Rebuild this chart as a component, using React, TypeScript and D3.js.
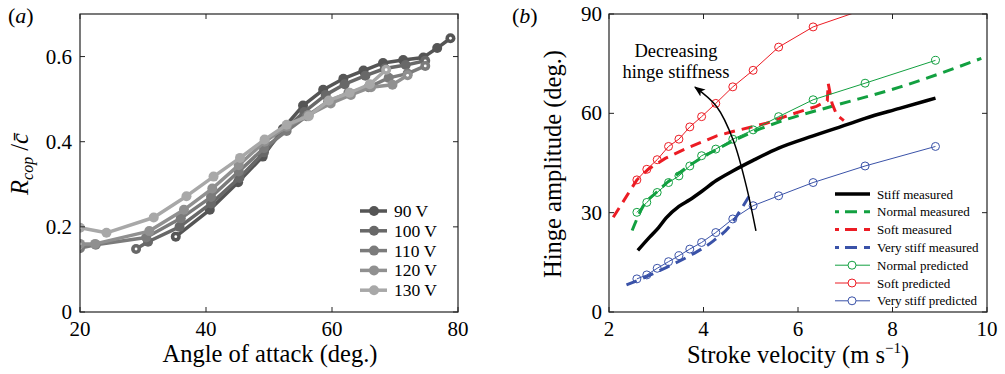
import React from "react";
import * as d3 from "d3";

// ---------- Panel (a) data ----------
const voltLabels = ["90 V", "100 V", "110 V", "120 V", "130 V"];
const voltColors = ["#555555", "#686868", "#7b7b7b", "#909090", "#a8a8a8"];
const aoa90 = [35.2, 40.6, 45.1, 49.0, 52.2, 55.4, 58.6, 61.8, 65.0, 68.1, 71.3, 74.5, 76.7, 78.8];
const r90 = [0.177, 0.24, 0.305, 0.365, 0.43, 0.485, 0.522, 0.548, 0.567, 0.585, 0.592, 0.598, 0.62, 0.643];
const aoa100 = [28.9, 30.8, 35.8, 40.8, 45.3, 49.2, 52.6, 55.6, 59.0, 62.0, 65.3, 68.4, 71.7, 74.8];
const r100 = [0.148, 0.165, 0.2, 0.255, 0.315, 0.375, 0.43, 0.47, 0.51, 0.535, 0.555, 0.572, 0.58, 0.59];
const aoa110 = [20, 22.5, 30.5, 36.0, 40.8, 45.2, 49.2, 52.8, 56.0, 59.4, 62.6, 65.8, 69.0, 72.0, 74.8];
const r110 = [0.15, 0.158, 0.175, 0.22, 0.27, 0.33, 0.385, 0.425, 0.46, 0.495, 0.515, 0.528, 0.55, 0.56, 0.578];
const aoa120 = [20, 22.4, 31.0, 36.5, 41.0, 45.2, 49.3, 52.8, 56.3, 59.8, 63.0, 66.2, 69.6, 72.0];
const r120 = [0.16, 0.16, 0.19, 0.24, 0.29, 0.345, 0.4, 0.435, 0.463, 0.49, 0.51, 0.528, 0.534, 0.556];
const aoa130 = [20, 24.2, 31.7, 36.9, 41.2, 45.4, 49.3, 52.8, 56.3, 59.5, 62.8, 66.0, 68.6];
const r130 = [0.198, 0.186, 0.222, 0.272, 0.318, 0.362, 0.405, 0.44, 0.46, 0.497, 0.515, 0.535, 0.569];
const aoaSeries = [aoa90, aoa100, aoa110, aoa120, aoa130];
const rSeries = [r90, r100, r110, r120, r130];
const aXTicks = [20, 40, 60, 80];
const aYTicks = [0, 0.2, 0.4, 0.6];

// ---------- Panel (b) data ----------
const predV = [2.59, 2.80, 3.02, 3.26, 3.48, 3.71, 3.96, 4.26, 4.62, 5.05, 5.59, 6.32, 7.42, 8.91];
const softPred = [39.9, 43.1, 46.0, 50.0, 52.2, 55.9, 59.0, 63.0, 68.0, 73.0, 80.0, 86.1, 91.5, 97];
const normalPred = [30.1, 33.1, 36.1, 39.1, 41.1, 44.1, 47.2, 49.2, 52.2, 55.0, 59.0, 64.1, 69.1, 76.0];
const vstiffPred = [10.0, 11.2, 13.2, 15.2, 17.0, 19.0, 21.0, 24.0, 28.1, 32.1, 35.1, 39.1, 44.1, 50.0];

const stiffMeasV = [2.61, 2.86, 3.05, 3.21, 3.48, 3.71, 3.96, 4.27, 4.62, 5.05, 5.59, 6.32, 7.16, 7.42, 8.15, 8.91];
const stiffMeas = [18.6, 22.6, 25.5, 28.4, 31.9, 33.9, 36.4, 39.7, 42.6, 45.8, 49.5, 53.2, 57.2, 58.5, 61.5, 64.6];
const normalMeasV = [2.49, 2.72, 3.0, 3.43, 3.92, 4.27, 4.98, 5.68, 6.74, 8.15, 9.88];
const normalMeas = [24.6, 31.9, 36.1, 41.4, 46.2, 49.0, 54.0, 57.8, 62.2, 67.9, 76.6];
const softMeasV = [2.09, 2.59, 2.83, 3.19, 3.64, 4.28, 4.62, 5.33, 5.82, 6.39, 6.62, 6.64, 6.72, 6.82, 6.97];
const softMeas = [28.6, 39.9, 43.1, 46.4, 49.4, 53.2, 54.5, 57.0, 59.5, 62.1, 63.8, 69.0, 63.0, 59.5, 57.8];
const vstiffMeasV = [2.37, 2.80, 3.22, 3.71, 4.21, 4.56, 4.75, 4.98];
const vstiffMeas = [8.2, 10.7, 13.5, 17.0, 21.5, 26.0, 30.0, 35.3];
const arrowV = [5.11, 4.91, 4.63, 4.28, 3.82];
const arrowDeg = [24.5, 37.8, 51.9, 62.0, 67.9];
const bXTicks = [2, 4, 6, 8, 10];
const bYTicks = [0, 30, 60, 90];

const GREEN = "#12a040";
const RED = "#ec1c24";
const BLUE = "#3a52a8";
const FONT = "'Liberation Serif', 'Times New Roman', serif";

export default function App() {
  const ax = d3.scaleLinear().domain([20, 80]).range([80, 458]);
  const ay = d3.scaleLinear().domain([0, 0.7]).range([312, 14]);
  const bx = d3.scaleLinear().domain([2, 10]).range([609, 987]);
  const by = d3.scaleLinear().domain([0, 90]).range([312, 14]);

  const lineA = d3.line<[number, number]>().x((d) => ax(d[0])).y((d) => ay(d[1]));
  const lineB = d3.line<[number, number]>().x((d) => bx(d[0])).y((d) => by(d[1])).curve(d3.curveMonotoneX);
  const lineBLin = d3.line<[number, number]>().x((d) => bx(d[0])).y((d) => by(d[1]));
  const lineArrow = d3.line<[number, number]>().x((d) => bx(d[0])).y((d) => by(d[1])).curve(d3.curveCatmullRom);

  const zip = (xs: number[], ys: number[]) => xs.map((x, i) => [x, ys[i]] as [number, number]);

  const tickLen = 5;

  const frame = (x0: number, x1: number, y0: number, y1: number) => (
    <rect x={x0} y={y0} width={x1 - x0} height={y1 - y0} fill="none" stroke="#222" strokeWidth={1.2} />
  );

  const predSeries = [
    { xs: predV, ys: normalPred, c: GREEN },
    { xs: predV, ys: softPred, c: RED },
    { xs: predV, ys: vstiffPred, c: BLUE },
  ];

  const legendB = [
    { label: "Stiff measured", type: "solid", c: "#000" },
    { label: "Normal measured", type: "dash", c: GREEN },
    { label: "Soft measured", type: "dash", c: RED },
    { label: "Very stiff measured", type: "dash", c: BLUE },
    { label: "Normal predicted", type: "pred", c: GREEN },
    { label: "Soft predicted", type: "pred", c: RED },
    { label: "Very stiff predicted", type: "pred", c: BLUE },
  ];

  return (
    <svg width={1005} height={374} style={{ position: "absolute", left: 0, top: 0, background: "#fff" }} fontFamily={FONT}>
      <defs>
        <clipPath id="clipA">
          <rect x={80} y={14} width={378} height={298} />
        </clipPath>
        <clipPath id="clipB">
          <rect x={609} y={14} width={378} height={298} />
        </clipPath>
        <marker id="arrowHead" viewBox="0 0 10 10" refX={9} refY={5} markerWidth={11} markerHeight={11} markerUnits="userSpaceOnUse" orient="auto">
          <path d="M0,1 L10,5 L0,9 L2.5,5 Z" fill="#000" />
        </marker>
      </defs>

      {/* ================= Panel (a) ================= */}
      <text x={8} y={23} fontSize={22} fontStyle="italic">
        <tspan fontStyle="normal">(</tspan>a<tspan fontStyle="normal">)</tspan>
      </text>
      <g clipPath="url(#clipA)">
        {aoaSeries.map((xs, s) => {
          const pts = zip(xs, rSeries[s]);
          return (
            <g key={s}>
              <path d={lineA(pts) || ""} fill="none" stroke={voltColors[s]} strokeWidth={3.5} strokeLinejoin="round" />
              {pts.map((p, i) => (
                <circle key={i} cx={ax(p[0])} cy={ay(p[1])} r={5} fill={voltColors[s]} />
              ))}
              {[pts[0], pts[pts.length - 1]].map((p, i) => (
                <circle key={"w" + i} cx={ax(p[0])} cy={ay(p[1])} r={1.4} fill="#fff" />
              ))}
            </g>
          );
        })}
      </g>
      {frame(80, 458, 14, 312)}
      {aXTicks.map((t) => (
        <g key={"axt" + t}>
          <line x1={ax(t)} x2={ax(t)} y1={312} y2={312 - tickLen} stroke="#222" />
          <line x1={ax(t)} x2={ax(t)} y1={14} y2={14 + tickLen} stroke="#222" />
          <text x={ax(t)} y={336} fontSize={21} textAnchor="middle">{t}</text>
        </g>
      ))}
      {aYTicks.map((t) => (
        <g key={"ayt" + t}>
          <line x1={80} x2={80 + tickLen} y1={ay(t)} y2={ay(t)} stroke="#222" />
          <line x1={458} x2={458 - tickLen} y1={ay(t)} y2={ay(t)} stroke="#222" />
          <text x={72} y={ay(t) + 7} fontSize={21} textAnchor="end">{t === 0 ? "0" : t.toFixed(1)}</text>
        </g>
      ))}
      <text x={270} y={362} fontSize={24.5} textAnchor="middle">Angle of attack (deg.)</text>
      <g transform="translate(28,164) rotate(-90)">
        <text x={0} y={0} fontSize={24.5} textAnchor="middle">
          <tspan fontStyle="italic">R</tspan>
          <tspan fontStyle="italic" fontSize={16} dy={5}>cop</tspan>
          <tspan dy={-5}> /</tspan>
          <tspan fontStyle="italic">c̄</tspan>
        </text>
      </g>
      {voltLabels.map((lab, i) => {
        const yy = 211 + i * 19.8;
        return (
          <g key={lab}>
            <line x1={360} x2={387} y1={yy} y2={yy} stroke={voltColors[i]} strokeWidth={3.5} />
            <circle cx={374} cy={yy} r={5} fill={voltColors[i]} />
            <text x={394} y={yy + 6} fontSize={17.5}>{lab}</text>
          </g>
        );
      })}

      {/* ================= Panel (b) ================= */}
      <text x={512} y={23} fontSize={22} fontStyle="italic">
        <tspan fontStyle="normal">(</tspan>b<tspan fontStyle="normal">)</tspan>
      </text>
      <g clipPath="url(#clipB)">
        <path d={lineB(zip(normalMeasV, normalMeas)) || ""} fill="none" stroke={GREEN} strokeWidth={3} strokeDasharray="11 7" />
        <path d={lineBLin(zip(softMeasV, softMeas)) || ""} fill="none" stroke={RED} strokeWidth={3} strokeDasharray="11 7" />
        <path d={lineB(zip(vstiffMeasV, vstiffMeas)) || ""} fill="none" stroke={BLUE} strokeWidth={3} strokeDasharray="11 7" />
        <path d={lineB(zip(stiffMeasV, stiffMeas)) || ""} fill="none" stroke="#000" strokeWidth={3.5} />
        {predSeries.map((s, k) => {
          const pts = zip(s.xs, s.ys);
          return (
            <g key={k}>
              <path d={lineBLin(pts) || ""} fill="none" stroke={s.c} strokeWidth={1} />
              {pts.map((p, i) => (
                <circle key={i} cx={bx(p[0])} cy={by(p[1])} r={4} fill="none" stroke={s.c} strokeWidth={1} />
              ))}
            </g>
          );
        })}
        <path d={lineArrow(zip(arrowV, arrowDeg)) || ""} fill="none" stroke="#000" strokeWidth={1.5} markerEnd="url(#arrowHead)" />
      </g>
      {frame(609, 987, 14, 312)}
      {bXTicks.map((t) => (
        <g key={"bxt" + t}>
          <line x1={bx(t)} x2={bx(t)} y1={312} y2={312 - tickLen} stroke="#222" />
          <line x1={bx(t)} x2={bx(t)} y1={14} y2={14 + tickLen} stroke="#222" />
          <text x={bx(t)} y={336} fontSize={21} textAnchor="middle">{t}</text>
        </g>
      ))}
      {bYTicks.map((t) => (
        <g key={"byt" + t}>
          <line x1={609} x2={609 + tickLen} y1={by(t)} y2={by(t)} stroke="#222" />
          <line x1={987} x2={987 - tickLen} y1={by(t)} y2={by(t)} stroke="#222" />
          <text x={602} y={by(t) + 7} fontSize={21} textAnchor="end">{t}</text>
        </g>
      ))}
      <text x={798} y={363} fontSize={24.5} textAnchor="middle">
        Stroke velocity (m s<tspan fontSize={15} dy={-10}>−1</tspan><tspan dy={10}>)</tspan>
      </text>
      <text transform="translate(561,164) rotate(-90)" x={0} y={0} fontSize={24.5} textAnchor="middle">
        Hinge amplitude (deg.)
      </text>
      <text x={676} y={57} fontSize={18.5} textAnchor="middle">Decreasing</text>
      <text x={676} y={78} fontSize={18.5} textAnchor="middle">hinge stiffness</text>

      {legendB.map((l, i) => {
        const yy = 194 + i * 17.8;
        return (
          <g key={l.label}>
            {l.type === "solid" && <line x1={835} x2={870} y1={yy} y2={yy} stroke={l.c} strokeWidth={3.5} />}
            {l.type === "dash" && (
              <line x1={835} x2={870} y1={yy} y2={yy} stroke={l.c} strokeWidth={3} strokeDasharray="4 6 12 7 6" />
            )}
            {l.type === "pred" && (
              <g>
                <line x1={835} x2={870} y1={yy} y2={yy} stroke={l.c} strokeWidth={1} />
                <circle cx={852} cy={yy} r={4} fill="#fff" stroke={l.c} strokeWidth={1} />
              </g>
            )}
            <text x={877} y={yy + 4.5} fontSize={13}>{l.label}</text>
          </g>
        );
      })}
    </svg>
  );
}
